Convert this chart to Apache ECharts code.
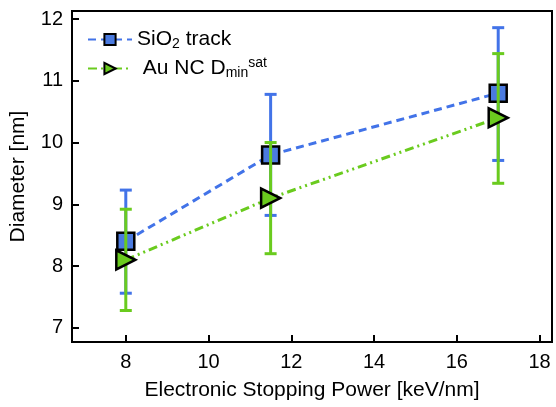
<!DOCTYPE html>
<html>
<head>
<meta charset="utf-8">
<script src="https://cdn.jsdelivr.net/npm/echarts@6/dist/echarts.min.js"></script>
<style>html,body{margin:0;padding:0;background:#fff}#c{width:556px;height:407px}</style>
</head>
<body>
<div id="c"></div>
<script>
const xs = [8, 11.5, 17];
const sio2 = [8.4, 9.8, 10.8];
const sio2Low = [7.56, 8.82, 9.71];
const sio2High = [9.23, 10.78, 11.86];
const au = [8.1, 9.1, 10.4];
const auLow = [7.28, 8.2, 9.34];
const auHigh = [8.92, 10.0, 11.44];

const BLUE = '#4273e8';
const GREEN = '#6acb1e';

function errData(lo, hi) { return xs.map((x, i) => [x, lo[i], hi[i]]); }
function errRender(color) {
  return function (params, api) {
    const x = api.value(0), lo = api.value(1), hi = api.value(2);
    const a = api.coord([x, lo]), b = api.coord([x, hi]);
    const w = 6;
    const st = { stroke: color, lineWidth: 3 };
    return { type: 'group', children: [
      { type: 'line', shape: { x1: a[0], y1: a[1], x2: b[0], y2: b[1] }, style: st },
      { type: 'line', shape: { x1: a[0] - w, y1: a[1], x2: a[0] + w, y2: a[1] }, style: st },
      { type: 'line', shape: { x1: b[0] - w, y1: b[1], x2: b[0] + w, y2: b[1] }, style: st }
    ]};
  };
}
const intFmt = v => (Math.abs(v - Math.round(v)) < 1e-6 ? String(Math.round(v)) : '');
const chart = echarts.init(document.getElementById('c'));
chart.setOption({
  animation: false,
  textStyle: { fontFamily: 'Liberation Sans, Arial, sans-serif' },
  grid: { left: 72, right: 4, top: 11, bottom: 65, show: true, borderColor: '#000', borderWidth: 2 },
  legend: {
    data: ['SiO2 track', 'Au NC Dmin sat'],
    orient: 'vertical', left: 82, top: 24, itemWidth: 44, itemHeight: 14, itemGap: 5,
    textStyle: {
      color: '#000', fontSize: 21,
      rich: {
        a: { fontSize: 21, color: '#000', lineHeight: 24, fontFamily: 'Liberation Sans' },
        sub: { fontSize: 14, color: '#000', lineHeight: 8, verticalAlign: 'bottom', padding: [6, 0, 0, 0], fontFamily: 'Liberation Sans' },
        sup: { fontSize: 14, color: '#000', lineHeight: 8, verticalAlign: 'top', padding: [0, 0, 6, 0], fontFamily: 'Liberation Sans' }
      }
    },
    formatter: function (n) {
      if (n === 'SiO2 track') return '{a|SiO}{sub|2}{a| track}';
      return '{a| Au NC D}{sub|min}{sup|sat}';
    }
  },
  xAxis: {
    type: 'value', min: 6.7, max: 18.3,
    name: 'Electronic Stopping Power [keV/nm]', nameLocation: 'middle', nameGap: 38,
    nameTextStyle: { fontSize: 21, color: '#000' },
    axisLine: { lineStyle: { color: '#000', width: 2 } },
    axisTick: { inside: true, length: 7, lineStyle: { color: '#000', width: 2 } },
    axisLabel: { fontSize: 20, color: '#000', margin: 10, formatter: intFmt },
    splitLine: { show: false }
  },
  yAxis: {
    type: 'value', min: 6.77, max: 12.13,
    name: 'Diameter [nm]', nameLocation: 'middle', nameGap: 43,
    nameTextStyle: { fontSize: 21, color: '#000' },
    axisLine: { lineStyle: { color: '#000', width: 2 } },
    axisTick: { inside: true, length: 7, lineStyle: { color: '#000', width: 2 } },
    axisLabel: { fontSize: 20, color: '#000', margin: 9, formatter: intFmt },
    splitLine: { show: false }
  },
  series: [
    { type: 'custom', name: 'errSiO2', renderItem: errRender(BLUE), data: errData(sio2Low, sio2High), encode: { x: 0, y: [1, 2] }, z: 2 },
    { type: 'line', name: 'SiO2 track', data: xs.map((x, i) => [x, sio2[i]]),
      symbol: 'rect', symbolSize: 17,
      lineStyle: { color: BLUE, width: 3, type: [8, 5] },
      itemStyle: { color: '#4b7be0', borderColor: '#000', borderWidth: 2.5 }, z: 3 },
    { type: 'custom', name: 'errAu', renderItem: errRender(GREEN), data: errData(auLow, auHigh), encode: { x: 0, y: [1, 2] }, z: 4 },
    { type: 'line', name: 'Au NC Dmin sat', data: xs.map((x, i) => [x, au[i]]),
      symbol: 'triangle', symbolSize: 19, symbolRotate: -90,
      lineStyle: { color: GREEN, width: 3, type: [9, 4, 2, 4, 2, 4] },
      itemStyle: { color: GREEN, borderColor: '#000', borderWidth: 2.5 }, z: 5 }
  ]
});
</script>
</body>
</html>
